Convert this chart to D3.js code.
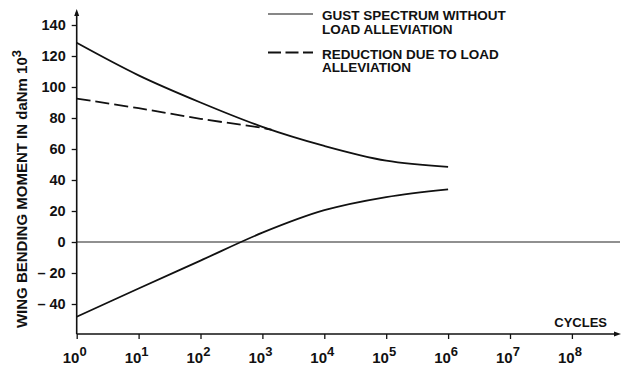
<!DOCTYPE html>
<html>
<head>
<meta charset="utf-8">
<script src="https://cdn.jsdelivr.net/npm/d3@7/dist/d3.min.js"></script>
<style>
  html, body { margin: 0; padding: 0; background: #fff; }
  svg { display: block; font-family: "Liberation Sans", Arial, Helvetica, sans-serif; font-weight: bold; }
</style>
</head>
<body>
<svg id="chart" width="621" height="367"></svg>
<script>
// Wing bending moment spectrum (daNm x 10^3) against cumulative cycles
const cycles = [1, 10, 100, 1e3, 1e4, 1e5, 1e6];
const gustUpper = [128.5, 107.5, 90, 74.3, 62, 52.5, 48.5];
const gustLower = [-48.2, -30, -12, 6, 20.5, 29, 34];
const reducedCycles = [1, 10, 100, 1e3, 1400];
const reducedUpper = [92.5, 86.3, 79.5, 73.6, 72.5];

const yTicks = [-40, -20, 0, 20, 40, 60, 80, 100, 120, 140];
const xExponents = [0, 1, 2, 3, 4, 5, 6, 7, 8];

const legendItems = [
  { lines: ["GUST SPECTRUM WITHOUT", "LOAD ALLEVIATION"], dash: null },
  { lines: ["REDUCTION DUE TO LOAD", "ALLEVIATION"], dash: "13,4.5" }
];

const svg = d3.select("#chart");

const x0 = 76.7, decadePx = 61.9;
const x = d3.scaleLog().domain([1, 1e8]).range([x0, x0 + 8 * decadePx]);
const y = d3.scaleLinear().domain([0, 140]).range([242, 25]);

const axisBottomY = 334;
const axisRightX = 620;
const axisTopY = 9;

// zero reference line
svg.append("line")
  .attr("x1", x0).attr("x2", axisRightX)
  .attr("y1", y(0)).attr("y2", y(0))
  .attr("stroke", "#222").attr("stroke-width", 1.1);

// y axis
const yAxis = d3.axisLeft(y).tickValues(yTicks).tickSize(5).tickPadding(6)
  .tickFormat(d => d < 0 ? "\u2013 " + Math.abs(d) : String(d));
const gy = svg.append("g").attr("transform", `translate(${x0},0)`).call(yAxis);
gy.select(".domain").remove();
gy.selectAll(".tick line").attr("stroke", "#111").attr("stroke-width", 1.3);
gy.selectAll(".tick text")
  .attr("font-size", 14.5).attr("font-weight", "bold").attr("fill", "#111")
  .attr("font-family", "Liberation Sans, Arial, sans-serif");

svg.append("line")
  .attr("x1", x0).attr("x2", x0)
  .attr("y1", axisBottomY).attr("y2", axisTopY + 3)
  .attr("stroke", "#111").attr("stroke-width", 1.6);
svg.append("path")
  .attr("d", `M${x0},${axisTopY} L${x0 - 2.5},${axisTopY + 7} L${x0 + 2.5},${axisTopY + 7} Z`)
  .attr("fill", "#111");

// x axis
const xAxis = d3.axisBottom(x).tickValues(xExponents.map(e => Math.pow(10, e)))
  .tickSize(5).tickFormat("");
const gx = svg.append("g").attr("transform", `translate(0,${axisBottomY})`).call(xAxis);
gx.select(".domain").remove();
gx.selectAll(".tick line").attr("stroke", "#111").attr("stroke-width", 1.3);

svg.append("line")
  .attr("x1", x0).attr("x2", axisRightX - 3)
  .attr("y1", axisBottomY).attr("y2", axisBottomY)
  .attr("stroke", "#111").attr("stroke-width", 1.6);
svg.append("path")
  .attr("d", `M${axisRightX + 1},${axisBottomY} L${axisRightX - 6},${axisBottomY - 2.5} L${axisRightX - 6},${axisBottomY + 2.5} Z`)
  .attr("fill", "#111");

// decade labels 10^n
const xl = svg.append("g");
xExponents.forEach(e => {
  const t = xl.append("text")
    .attr("x", x(Math.pow(10, e)) - 2)
    .attr("y", 363)
    .attr("text-anchor", "middle")
    .attr("font-size", 15).attr("fill", "#111");
  t.append("tspan").text("10");
  t.append("tspan").attr("dy", -7).attr("font-size", 13).text(String(e));
});

svg.append("text")
  .attr("x", 607).attr("y", 327)
  .attr("text-anchor", "end")
  .attr("font-size", 13).attr("fill", "#111")
  .text("CYCLES");

// y axis title
const yt = svg.append("text")
  .attr("transform", "translate(27,189) rotate(-90)")
  .attr("text-anchor", "middle")
  .attr("font-size", 15).attr("fill", "#111");
yt.append("tspan").text("WING BENDING MOMENT IN daNm 10");
yt.append("tspan").attr("dy", -6).attr("font-size", 13).text("3");

// curves
const line = d3.line()
  .x(d => x(d[0]))
  .y(d => y(d[1]))
  .curve(d3.curveCatmullRom.alpha(0.5));

svg.append("path")
  .datum(cycles.map((c, i) => [c, gustUpper[i]]))
  .attr("d", line)
  .attr("fill", "none").attr("stroke", "#111").attr("stroke-width", 1.8);

svg.append("path")
  .datum(cycles.map((c, i) => [c, gustLower[i]]))
  .attr("d", line)
  .attr("fill", "none").attr("stroke", "#111").attr("stroke-width", 1.8);

svg.append("path")
  .datum(reducedCycles.map((c, i) => [c, reducedUpper[i]]))
  .attr("d", line)
  .attr("fill", "none").attr("stroke", "#111").attr("stroke-width", 1.8)
  .attr("stroke-dasharray", "14,5");

// legend
const lg = svg.append("g");
legendItems.forEach((item, i) => {
  const top = 14 + i * 38.5;
  lg.append("line")
    .attr("x1", 268).attr("x2", 313)
    .attr("y1", top).attr("y2", top)
    .attr("stroke", "#111").attr("stroke-width", item.dash ? 1.8 : 1.2)
    .attr("stroke-dasharray", item.dash);
  item.lines.forEach((s, j) => {
    lg.append("text")
      .attr("x", 322).attr("y", top + 6 + j * 13.5)
      .attr("font-size", 13.5).attr("fill", "#111")
      .text(s);
  });
});
</script>
</body>
</html>
